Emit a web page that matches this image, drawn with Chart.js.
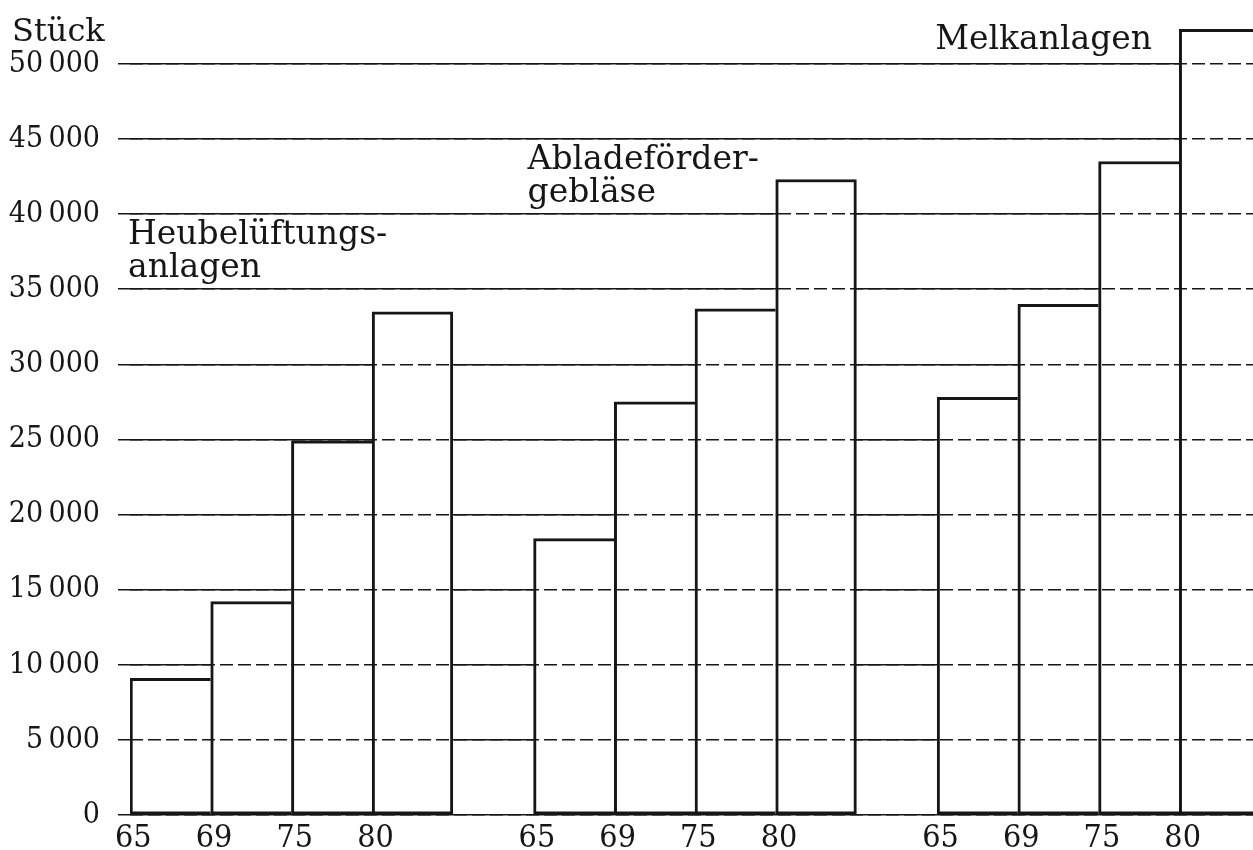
<!DOCTYPE html>
<html>
<head>
<meta charset="utf-8">
<script src="https://cdn.jsdelivr.net/npm/chart.js@4"></script>
<style>
  html, body { margin: 0; padding: 0; background: #fff; overflow: hidden; }
  #wrap { width: 1260px; height: 850px; }
</style>
</head>
<body>
<div id="wrap"><canvas id="chart" width="1260" height="850"></canvas></div>
<script>
/*
Data (Stück)
*/
const years = ["65", "69", "75", "80"];
const heuValues = [9100, 14200, 24900, 33500];
const abladeValues = [18400, 27500, 33700, 42300];
const melkValues = [27800, 34000, 43500, 52300];
const groupTitles = [["Heubelüftungs-", "anlagen"], ["Abladeförder-", "gebläse"], ["Melkanlagen"]];
const yTickValues = [0, 5000, 10000, 15000, 20000, 25000, 30000, 35000, 40000, 45000, 50000];
const unitLabel = "Stück";

// three blocks of years with an empty slot between them
const labels = [...years, "", ...years, "", ...years];

function placeAt(values, start) {
  const arr = new Array(labels.length).fill(null);
  values.forEach((v, i) => { arr[start + i] = v; });
  return arr;
}

const ink = "#161616";
const serif = "'DejaVu Serif', 'Liberation Serif', serif";
const digits = "'DejaVu Serif Condensed', 'DejaVu Serif', serif";

function fmt(v) {
  if (v < 1000) return String(v);
  return Math.floor(v / 1000) + "\u2009" + "000";
}

function barDataset(values, start) {
  return {
    data: placeAt(values, start),
    backgroundColor: "#fff",
    borderColor: ink,
    borderSkipped: false,
    borderWidth: c => ({ top: 3, left: 3, bottom: 3, right: c.index % 5 === 3 ? 3 : 0 }),
    barPercentage: 1,
    categoryPercentage: 1,
    grouped: false
  };
}

/*
Titles over the groups + unit
*/
const titlePlugin = {
  id: "groupTitles",
  afterDraw(chart, args, opts) {
    const { ctx, scales: { x, y } } = chart;
    const half = (x.getPixelForValue(1) - x.getPixelForValue(0)) / 2;
    ctx.save();
    ctx.fillStyle = ink;
    ctx.font = "33px " + serif;
    ctx.textBaseline = "alphabetic";
    ctx.textAlign = "left";
    opts.items.forEach((item, k) => {
      const left = x.getPixelForValue(item.start) - half + item.dx;
      groupTitles[k].forEach((line, i) => {
        ctx.fillText(line, left, y.getPixelForValue(item.at) + i * 33);
      });
    });
    ctx.font = "32px " + serif;
    ctx.fillText(unitLabel, 12, y.getPixelForValue(51500));
    ctx.restore();
  }
};

function fixedTicks(scale) {
  scale.ticks = yTickValues.map(v => ({ value: v }));
}

new Chart(document.getElementById("chart"), {
  type: "bar",
  data: {
    labels: labels,
    datasets: [
      barDataset(heuValues, 0),
      barDataset(abladeValues, 5),
      barDataset(melkValues, 10)
    ]
  },
  options: {
    responsive: false,
    animation: false,
    layout: { padding: 0 },
    plugins: {
      legend: { display: false },
      tooltip: { enabled: false },
      groupTitles: {
        items: [
          { start: 0, at: 38000, dx: -2 },
          { start: 5, at: 43000, dx: -6 },
          { start: 10, at: 51000, dx: -2 }
        ]
      }
    },
    scales: {
      x: {
        type: "category",
        offset: true,
        grid: { display: false, drawTicks: false },
        border: { display: false },
        ticks: {
          color: ink,
          font: { family: digits, size: 32 },
          padding: 4,
          labelOffset: -37,
          maxRotation: 0,
          autoSkip: false
        },
        afterFit: s => { s.height = 35; }
      },
      y: {
        min: 0,
        max: 54250,
        ticks: {
          color: ink,
          font: { family: digits, size: 30 },
          padding: 18,
          autoSkip: false,
          callback: v => fmt(v)
        },
        grid: { color: ink, lineWidth: 1.5, drawTicks: true, tickLength: 12, tickColor: ink },
        border: { display: false },
        afterBuildTicks: fixedTicks,
        afterFit: s => { s.width = 130; s.paddingTop = 0; s.paddingBottom = 0; }
      },
      y2: {
        position: "left",
        min: 0,
        max: 54250,
        ticks: { display: false },
        grid: { color: ink, lineWidth: 1.5, drawTicks: false, z: 1 },
        border: { display: false, dash: [13, 5] },
        afterBuildTicks: fixedTicks,
        afterFit: s => { s.width = 0; s.paddingTop = 0; s.paddingBottom = 0; }
      }
    }
  },
  plugins: [titlePlugin]
});
</script>
</body>
</html>
